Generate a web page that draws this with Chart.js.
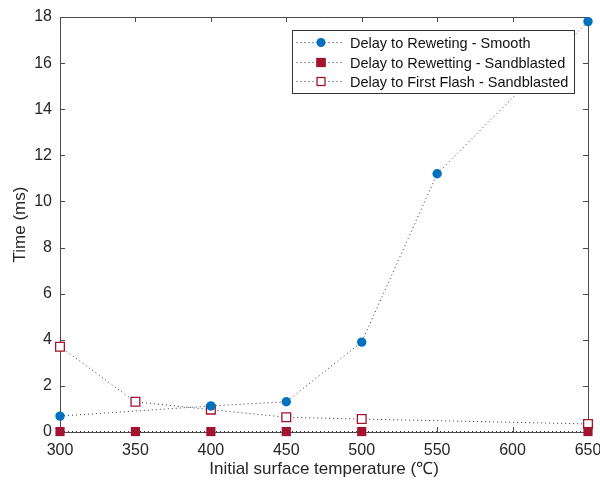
<!DOCTYPE html>
<html>
<head>
<meta charset="utf-8">
<script src="https://cdn.jsdelivr.net/npm/chart.js@4.4.0/dist/chart.umd.min.js"></script>
<style>
html,body{margin:0;padding:0;background:#fff;}
#wrap{width:600px;height:483px;position:relative;}
</style>
</head>
<body>
<div id="wrap"><canvas id="c" width="600" height="483"></canvas></div>
<script>
const smoothTemps = [300, 400, 450, 500, 550, 650];
const smoothRewetting = [0.69, 1.13, 1.31, 3.9, 11.2, 17.8];
const sandTemps = [300, 350, 400, 450, 500, 650];
const sandRewetting = [0.02, 0.02, 0.02, 0.02, 0.02, 0.02];
const flashTemps = [300, 350, 400, 450, 500, 650];
const sandFirstFlash = [3.7, 1.31, 0.97, 0.64, 0.56, 0.35];
const xTicks = [300, 350, 400, 450, 500, 550, 600, 650];
const yTicks = [0, 2, 4, 6, 8, 10, 12, 14, 16, 18];
const seriesNames = ['Delay to Reweting - Smooth', 'Delay to Rewetting - Sandblasted', 'Delay to First Flash - Sandblasted'];

const BLUE = '#0072BD', RED = '#A2142F', AX = '#4a4a4a';
const FONT = '"Liberation Sans", Arial, Helvetica, sans-serif';

function pts(xs, ys){ return xs.map((x,i)=>({x:x, y:ys[i]})); }

const boxPlugin = {
  id: 'boxTicks',
  beforeDatasetsDraw(chart){
    const ctx = chart.ctx, a = chart.chartArea;
    const xs = chart.scales.x, ys = chart.scales.y;
    ctx.save();
    ctx.strokeStyle = AX; ctx.lineWidth = 1;
    const L = 5;
    ctx.beginPath();
    xTicks.forEach(v=>{
      const p = Math.round(xs.getPixelForValue(v))+0.5;
      ctx.moveTo(p, a.bottom); ctx.lineTo(p, a.bottom-L);
      ctx.moveTo(p, a.top); ctx.lineTo(p, a.top+L);
    });
    yTicks.forEach(v=>{
      const p = Math.round(ys.getPixelForValue(v))+0.5;
      ctx.moveTo(a.left, p); ctx.lineTo(a.left+L, p);
      ctx.moveTo(a.right, p); ctx.lineTo(a.right-L, p);
    });
    ctx.stroke();
    ctx.beginPath();
    ctx.rect(Math.round(a.left)+0.5, Math.round(a.top)+0.5, Math.round(a.right-a.left), Math.round(a.bottom-a.top));
    ctx.stroke();
    ctx.restore();
  },
  afterDraw(chart){
    const ctx = chart.ctx;
    const bx = 292.5, by = 30.5, bw = 282, bh = 63;
    ctx.save();
    ctx.fillStyle = '#fff';
    ctx.fillRect(bx, by, bw, bh);
    ctx.strokeStyle = '#333'; ctx.lineWidth = 1;
    ctx.strokeRect(bx, by, bw, bh);
    const rows = [42, 62, 81];
    chart.data.datasets.forEach((ds, i)=>{
      const y = rows[i] + 0.5;
      ctx.strokeStyle = '#333'; ctx.lineWidth = 1;
      ctx.setLineDash([1,3]);
      ctx.beginPath(); ctx.moveTo(bx+4, y); ctx.lineTo(bx+50, y); ctx.stroke();
      ctx.setLineDash([]);
      const cx = 321;
      if (ds.pointStyle === 'circle') {
        ctx.fillStyle = ds.pointBackgroundColor;
        ctx.beginPath(); ctx.arc(cx, y, 4.5, 0, Math.PI*2); ctx.fill();
      } else {
        ctx.fillStyle = ds.pointBackgroundColor;
        ctx.fillRect(cx-4.5, y-4.5, 9, 9);
        ctx.strokeStyle = ds.pointBorderColor; ctx.lineWidth = 1.3;
        ctx.strokeRect(cx-4, y-4, 8, 8);
      }
      ctx.fillStyle = '#111';
      ctx.font = '14.5px ' + FONT;
      ctx.textBaseline = 'middle';
      ctx.textAlign = 'left';
      ctx.fillText(ds.label, 350, y+1);
    });
    ctx.restore();
  }
};

const common = {
  borderColor: '#333', borderWidth: 1, borderDash: [1,3], tension: 0, fill: false, clip: false
};

new Chart(document.getElementById('c'), {
  type: 'line',
  data: {
    datasets: [
      Object.assign({}, common, {
        label: seriesNames[0], data: pts(smoothTemps, smoothRewetting),
        pointStyle: 'circle', pointRadius: 4.7, pointBackgroundColor: BLUE, pointBorderColor: BLUE, pointBorderWidth: 0
      }),
      Object.assign({}, common, {
        label: seriesNames[1], data: pts(sandTemps, sandRewetting),
        pointStyle: 'rect', pointRadius: 6.5, pointBackgroundColor: RED, pointBorderColor: RED, pointBorderWidth: 0
      }),
      Object.assign({}, common, {
        label: seriesNames[2], data: pts(flashTemps, sandFirstFlash),
        pointStyle: 'rect', pointRadius: 6.2, pointBackgroundColor: '#fff', pointBorderColor: RED, pointBorderWidth: 1.3
      })
    ]
  },
  options: {
    responsive: false, animation: false, devicePixelRatio: 1,
    layout: { padding: { left: 0, top: 17, right: 12, bottom: 0 } },
    plugins: { legend: { display: false }, tooltip: { enabled: false } },
    scales: {
      x: {
        type: 'linear', min: 300, max: 650,
        afterBuildTicks(s){ s.ticks = xTicks.map(v=>({value:v})); },
        afterFit(s){ s.height = 51; s.paddingLeft = 0; s.paddingRight = 0; },
        grid: { display: false, drawTicks: false },
        border: { display: false },
        ticks: { color: '#262626', font: { family: FONT, size: 16 }, padding: 9, maxRotation: 0 },
        title: { display: true, text: 'Initial surface temperature (℃)', color: '#262626', font: { family: FONT, size: 17 }, padding: { top: 0, bottom: 3 } }
      },
      y: {
        type: 'linear', min: 0, max: 18,
        afterBuildTicks(s){ s.ticks = yTicks.map(v=>({value:v})); },
        afterFit(s){ s.width = 60; s.paddingTop = 0; s.paddingBottom = 0; },
        grid: { display: false, drawTicks: false },
        border: { display: false },
        ticks: { color: '#262626', font: { family: FONT, size: 16 }, padding: 8 },
        title: { display: true, text: 'Time (ms)', color: '#262626', font: { family: FONT, size: 17 }, padding: { top: 10, bottom: 0 } }
      }
    }
  },
  plugins: [boxPlugin]
});
</script>
</body>
</html>
